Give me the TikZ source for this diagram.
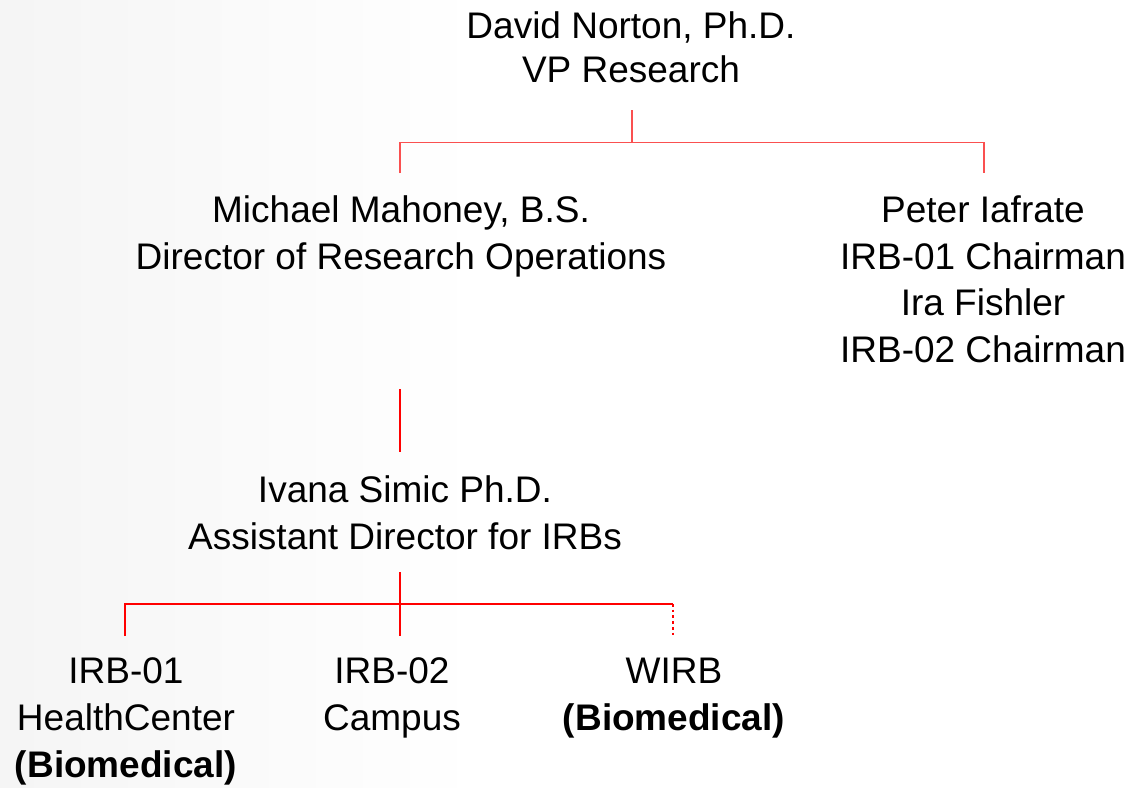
\documentclass[tikz,border=0pt]{standalone}
\usepackage{fontspec}
\setmainfont{Liberation Sans}
\begin{document}
\begin{tikzpicture}[x=1pt,y=-1pt,
  lbl/.style={anchor=base,align=center,inner sep=0pt,font=\fontsize{37}{47}\selectfont},
  chairlbl/.style={lbl,font=\fontsize{37}{46.5}\selectfont},
  toplbl/.style={lbl,font=\fontsize{37}{43.5}\selectfont},
  thinred/.style={draw={rgb,255:red,250;green,80;blue,80},line width=1.8pt},
  thickred/.style={draw=red,line width=2.8pt},
  dotred/.style={draw=red,line width=2.8pt,dash pattern=on 2.7pt off 3pt}]
% background
\useasboundingbox (0,0) rectangle (1132,787);
\fill[white] (0,0) rectangle (1132,787);
\shade[left color=black!4,right color=white] (0,0) rectangle (480,787);
% nodes (anchor base = baseline of the last line)
\node[toplbl] (vp) at (631,82) {David Norton, Ph.D.\\VP Research};
\node[lbl] (dro) at (401,269) {Michael Mahoney, B.S.\\Director of Research Operations};
\node[chairlbl] (chair) at (983,362) {Peter Iafrate\\IRB-01 Chairman\\Ira Fishler\\IRB-02 Chairman};
\node[lbl] (ad) at (405,549) {Ivana Simic Ph.D.\\Assistant Director for IRBs};
\node[lbl] (irb1) at (126,777) {IRB-01\\HealthCenter\\\textbf{(Biomedical)}};
\node[lbl] (irb2) at (392,730) {IRB-02\\Campus};
\node[lbl] (wirb) at (674,730) {WIRB\\\textbf{(Biomedical)}};
% connector coordinates
\coordinate (vpout) at (632,110);
\coordinate (tj) at (632,142.5);
\coordinate (tlj) at (400,142.5);
\coordinate (trj) at (984,142.5);
\coordinate (droin) at (400,173);
\coordinate (chairin) at (984,173);
\coordinate (droout) at (400,389);
\coordinate (adin) at (400,452);
\coordinate (adout) at (400,572);
\coordinate (bj) at (400,604);
\coordinate (blj) at (125,604);
\coordinate (brj) at (673,604);
\coordinate (irb1in) at (125,636);
\coordinate (irb2in) at (400,636);
\coordinate (wirbin) at (673,636);
% connectors
\draw[thinred] (vpout) -- (tj);
\draw[thinred] (droin) -- (tlj) -- (trj) -- (chairin);
\draw[thickred] (droout) -- (adin);
\draw[thickred] (adout) -- (irb2in);
\draw[thickred] (irb1in) -- (blj) -- (brj);
\draw[dotred] (brj) -- (wirbin);
\end{tikzpicture}
\end{document}
